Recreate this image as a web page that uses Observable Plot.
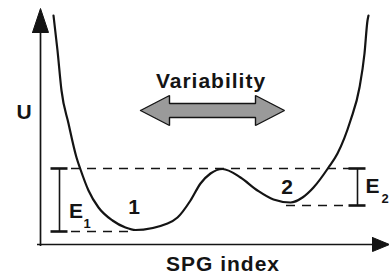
<!DOCTYPE html>
<html><head><meta charset="utf-8">
<script src="https://cdn.jsdelivr.net/npm/d3@7"></script>
<script src="https://cdn.jsdelivr.net/npm/@observablehq/plot@0.6"></script>
<style>html,body{margin:0;padding:0;background:#fff;}</style>
</head><body><div id="chart"></div>
<script>
// Potential curve U(SPG index) (diagram units)
const curveX = [13,17,21,28,36,40,48,58,72,85,95,127,137,150,160,170,182,200,217,233,250,262,273,288,297,310,319,324,327,328];
const curveU = [229,194,154,121,87,75,54,37,24,17,14.5,21,27,44,61,71,75.5,67,54,45,42,47,57,77,91,124,157,191,224,229];

// Dashed energy levels
const levelU  = [76, 13, 39];
const levelX1 = [31, 31, 246];
const levelX2 = [309, 93, 309];

// Barrier brackets E1, E2
const bracketX   = [19, 317];
const bracketLow = [13, 39];
const bracketTop = [76, 76];
const capHalf = 8.5;

// Axes
const yAxisTop = 212, xAxisEnd = 332;
const yHeadX = [-8, 0, 8, -8], yHeadU = [212, 236, 212, 212];
const xHeadX = [332, 349, 332, 332], xHeadU = [7, 0, -7, 7];

// Variability double arrow outline
const varX = [100,129,129,215,215,244,215,215,129,129,100];
const varU = [134,149,141,141,149,134,119,127,127,119,134];

// Labels
const bigText = ["U", "Variability", "SPG index", "1", "2", "E", "E"];
const bigX    = [-16, 170.5, 182.5, 94, 247, 36, 332.5];
const bigU    = [126, 157, -26, 31, 51, 27, 52];
const subText = ["1", "2"];
const subX    = [47, 345];
const subU    = [17, 42];

const idx = (n) => d3.range(n);
const curve = idx(curveX.length).map(i => ({x: curveX[i], u: curveU[i]}));
const levels = idx(levelU.length).map(i => ({u: levelU[i], x1: levelX1[i], x2: levelX2[i]}));
const brackets = idx(bracketX.length).map(i => ({x: bracketX[i], lo: bracketLow[i], hi: bracketTop[i]}));
const caps = brackets.flatMap(b => [{x1: b.x - capHalf, x2: b.x + capHalf, u: b.lo}, {x1: b.x - capHalf, x2: b.x + capHalf, u: b.hi}]);
const yHead = idx(yHeadX.length).map(i => ({x: yHeadX[i], u: yHeadU[i]}));
const xHead = idx(xHeadX.length).map(i => ({x: xHeadX[i], u: xHeadU[i]}));
const varArrow = idx(varX.length).map(i => ({x: varX[i], u: varU[i]}));
const big = idx(bigText.length).map(i => ({t: bigText[i], x: bigX[i], u: bigU[i]}));
const sub = idx(subText.length).map(i => ({t: subText[i], x: subX[i], u: subU[i]}));

const ink = "#141414";
const chart = Plot.plot({
  width: 389, height: 275, margin: 0,
  x: {domain: [-40, 349], axis: null},
  y: {domain: [-31, 244], axis: null},
  style: {fontFamily: "'Liberation Sans', Arial, sans-serif", background: "white", letterSpacing: "1px"},
  marks: [
    // axes
    Plot.ruleX([0], {y1: -2, y2: yAxisTop, stroke: ink, strokeWidth: 1.7}),
    Plot.ruleY([0], {x1: -3, x2: xAxisEnd, stroke: ink, strokeWidth: 1.7}),
    Plot.line(yHead, {x: "x", y: "u", fill: ink, stroke: ink, strokeWidth: 1}),
    Plot.line(xHead, {x: "x", y: "u", fill: ink, stroke: ink, strokeWidth: 1}),
    // dashed levels
    Plot.ruleY(levels, {y: "u", x1: "x1", x2: "x2", stroke: ink, strokeWidth: 1.6, strokeDasharray: "9,7"}),
    // brackets
    Plot.ruleX(brackets, {x: "x", y1: "lo", y2: "hi", stroke: ink, strokeWidth: 1.6}),
    Plot.ruleY(caps, {y: "u", x1: "x1", x2: "x2", stroke: ink, strokeWidth: 2.6}),
    // potential curve
    Plot.line(curve, {x: "x", y: "u", curve: "monotone-x", stroke: ink, strokeWidth: 2.2}),
    // variability arrow
    Plot.line(varArrow, {x: "x", y: "u", fill: "#9a9a9a", stroke: ink, strokeWidth: 1.4, strokeLinejoin: "miter"}),
    // labels
    Plot.text(big, {x: "x", y: "u", text: "t", fontSize: 21, fontWeight: "bold", lineAnchor: "bottom", fill: ink}),
    Plot.text(sub, {x: "x", y: "u", text: "t", fontSize: 13, fontWeight: "bold", lineAnchor: "bottom", fill: ink})
  ]
});
document.getElementById("chart").append(chart);
</script>
</body></html>
